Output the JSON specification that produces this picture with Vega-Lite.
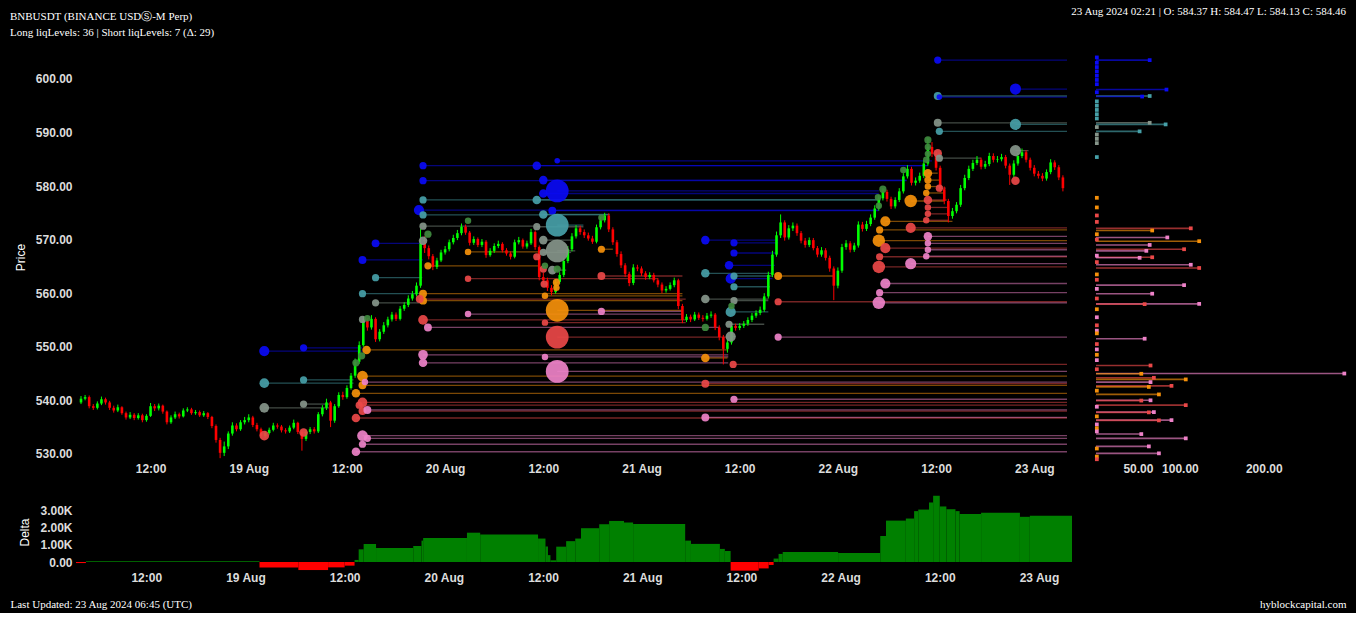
{
  "$schema": "https://vega.github.io/schema/vega-lite/v6.json",
  "background": "#000000",
  "padding": {"left": 10, "top": 6, "right": 10, "bottom": 4},
  "autosize": {"type": "pad"},
  "bounds": "flush",
  "columns": 2,
  "spacing": {"row": 30, "column": 24},
  "datasets": {
    "candles": [
      {"t":3.5,"o":539.6,"h":540.8,"l":539.3,"c":540.3},
      {"t":4.0,"o":540.3,"h":541.0,"l":540.0,"c":540.6},
      {"t":4.5,"o":540.6,"h":540.9,"l":538.5,"c":538.9},
      {"t":5.0,"o":538.9,"h":539.3,"l":538.2,"c":538.6},
      {"t":5.5,"o":538.6,"h":539.8,"l":538.3,"c":539.4},
      {"t":6.0,"o":539.4,"h":540.7,"l":539.1,"c":540.2},
      {"t":6.5,"o":540.2,"h":540.5,"l":539.2,"c":539.6},
      {"t":7.0,"o":539.6,"h":539.9,"l":538.2,"c":538.6},
      {"t":7.5,"o":538.6,"h":539.0,"l":537.7,"c":538.1},
      {"t":8.0,"o":538.1,"h":539.2,"l":537.8,"c":538.7},
      {"t":8.5,"o":538.7,"h":538.9,"l":537.3,"c":537.6},
      {"t":9.0,"o":537.6,"h":537.9,"l":536.4,"c":536.8},
      {"t":9.5,"o":536.8,"h":537.8,"l":536.5,"c":537.3},
      {"t":10.0,"o":537.3,"h":537.6,"l":536.3,"c":536.7},
      {"t":10.5,"o":536.7,"h":537.6,"l":536.4,"c":537.2},
      {"t":11.0,"o":537.2,"h":537.5,"l":535.9,"c":536.3},
      {"t":11.5,"o":536.3,"h":537.4,"l":536.0,"c":537.1},
      {"t":12.0,"o":537.1,"h":539.5,"l":536.9,"c":538.9},
      {"t":12.5,"o":538.9,"h":539.3,"l":538.0,"c":538.5},
      {"t":13.0,"o":538.5,"h":539.4,"l":538.1,"c":539.0},
      {"t":13.5,"o":539.0,"h":539.2,"l":537.5,"c":537.9},
      {"t":14.0,"o":537.9,"h":538.1,"l":535.5,"c":535.9},
      {"t":14.5,"o":535.9,"h":537.2,"l":535.6,"c":536.8},
      {"t":15.0,"o":536.8,"h":537.9,"l":536.5,"c":537.4},
      {"t":15.5,"o":537.4,"h":537.7,"l":536.6,"c":537.0},
      {"t":16.0,"o":537.0,"h":538.5,"l":536.8,"c":538.1},
      {"t":16.5,"o":538.1,"h":538.7,"l":537.8,"c":538.3},
      {"t":17.0,"o":538.3,"h":538.6,"l":537.3,"c":537.6},
      {"t":17.5,"o":537.6,"h":538.2,"l":537.3,"c":537.8},
      {"t":18.0,"o":537.8,"h":538.1,"l":536.9,"c":537.2},
      {"t":18.5,"o":537.2,"h":538.0,"l":536.9,"c":537.6},
      {"t":19.0,"o":537.6,"h":537.8,"l":536.5,"c":536.9},
      {"t":19.5,"o":536.9,"h":537.1,"l":534.8,"c":535.2},
      {"t":20.0,"o":535.2,"h":535.5,"l":532.1,"c":532.6},
      {"t":20.5,"o":532.6,"h":533.0,"l":529.2,"c":530.2},
      {"t":21.0,"o":530.2,"h":532.3,"l":529.6,"c":531.4},
      {"t":21.5,"o":531.4,"h":534.2,"l":530.9,"c":533.8},
      {"t":22.0,"o":533.8,"h":535.9,"l":533.4,"c":535.3},
      {"t":22.5,"o":535.3,"h":535.7,"l":534.2,"c":534.6},
      {"t":23.0,"o":534.6,"h":536.3,"l":534.3,"c":535.9},
      {"t":23.5,"o":535.9,"h":536.9,"l":535.5,"c":536.3},
      {"t":24.0,"o":536.3,"h":537.4,"l":535.9,"c":536.8},
      {"t":24.5,"o":536.8,"h":537.1,"l":535.0,"c":535.4},
      {"t":25.0,"o":535.4,"h":535.8,"l":534.2,"c":534.6},
      {"t":25.5,"o":534.6,"h":534.9,"l":533.0,"c":533.4},
      {"t":26.0,"o":533.4,"h":534.3,"l":533.0,"c":533.9},
      {"t":26.5,"o":533.9,"h":534.9,"l":533.6,"c":534.5},
      {"t":27.0,"o":534.5,"h":535.8,"l":534.2,"c":535.3},
      {"t":27.5,"o":535.3,"h":535.7,"l":534.7,"c":535.1},
      {"t":28.0,"o":535.1,"h":535.4,"l":534.0,"c":534.4},
      {"t":28.5,"o":534.4,"h":534.8,"l":533.8,"c":534.2},
      {"t":29.0,"o":534.2,"h":535.3,"l":533.9,"c":534.9},
      {"t":29.5,"o":534.9,"h":536.4,"l":534.6,"c":535.8},
      {"t":30.0,"o":535.8,"h":536.0,"l":533.7,"c":534.1},
      {"t":30.5,"o":534.1,"h":534.4,"l":530.6,"c":532.8},
      {"t":31.0,"o":532.8,"h":534.5,"l":532.4,"c":534.1},
      {"t":31.5,"o":534.1,"h":535.0,"l":533.7,"c":534.6},
      {"t":32.0,"o":534.6,"h":535.0,"l":533.8,"c":534.2},
      {"t":32.5,"o":534.2,"h":537.8,"l":533.9,"c":537.4},
      {"t":33.0,"o":537.4,"h":539.1,"l":537.0,"c":538.6},
      {"t":33.5,"o":538.6,"h":540.3,"l":538.2,"c":539.6},
      {"t":34.0,"o":539.6,"h":539.9,"l":535.0,"c":536.2},
      {"t":34.5,"o":536.2,"h":539.3,"l":535.8,"c":538.9},
      {"t":35.0,"o":538.9,"h":541.5,"l":538.6,"c":541.0},
      {"t":35.5,"o":541.0,"h":541.6,"l":540.1,"c":540.6},
      {"t":36.0,"o":540.6,"h":542.8,"l":540.3,"c":542.3},
      {"t":36.5,"o":542.3,"h":545.1,"l":542.0,"c":544.6},
      {"t":37.0,"o":544.6,"h":547.8,"l":544.2,"c":547.2},
      {"t":37.5,"o":547.2,"h":551.0,"l":546.8,"c":550.3},
      {"t":38.0,"o":550.3,"h":555.6,"l":550.0,"c":554.8},
      {"t":38.5,"o":554.8,"h":555.3,"l":553.0,"c":553.6},
      {"t":39.0,"o":553.6,"h":555.9,"l":553.2,"c":555.2},
      {"t":39.5,"o":555.2,"h":555.5,"l":550.9,"c":551.4},
      {"t":40.0,"o":551.4,"h":553.3,"l":551.0,"c":552.8},
      {"t":40.5,"o":552.8,"h":554.6,"l":552.4,"c":554.0},
      {"t":41.0,"o":554.0,"h":555.6,"l":553.6,"c":555.1},
      {"t":41.5,"o":555.1,"h":556.5,"l":554.7,"c":556.0},
      {"t":42.0,"o":556.0,"h":556.4,"l":554.8,"c":555.2},
      {"t":42.5,"o":555.2,"h":557.6,"l":554.9,"c":557.1},
      {"t":43.0,"o":557.1,"h":558.3,"l":556.7,"c":557.8},
      {"t":43.5,"o":557.8,"h":559.6,"l":557.4,"c":559.0},
      {"t":44.0,"o":559.0,"h":560.4,"l":558.6,"c":559.8},
      {"t":44.5,"o":559.8,"h":562.0,"l":559.4,"c":561.4},
      {"t":45.0,"o":561.4,"h":572.0,"l":561.0,"c":569.3},
      {"t":45.5,"o":569.3,"h":570.6,"l":567.5,"c":568.4},
      {"t":46.0,"o":568.4,"h":568.9,"l":566.3,"c":566.9},
      {"t":46.5,"o":566.9,"h":567.3,"l":564.3,"c":564.9},
      {"t":47.0,"o":564.9,"h":566.6,"l":564.5,"c":566.1},
      {"t":47.5,"o":566.1,"h":568.1,"l":565.8,"c":567.6},
      {"t":48.0,"o":567.6,"h":568.8,"l":567.2,"c":568.2},
      {"t":48.5,"o":568.2,"h":570.0,"l":567.8,"c":569.5},
      {"t":49.0,"o":569.5,"h":570.9,"l":569.1,"c":570.3},
      {"t":49.5,"o":570.3,"h":571.8,"l":569.9,"c":571.2},
      {"t":50.0,"o":571.2,"h":573.0,"l":570.8,"c":572.4},
      {"t":50.5,"o":572.4,"h":572.8,"l":570.9,"c":571.3},
      {"t":51.0,"o":571.3,"h":571.6,"l":568.9,"c":569.4},
      {"t":51.5,"o":569.4,"h":570.6,"l":569.0,"c":570.1},
      {"t":52.0,"o":570.1,"h":570.4,"l":568.6,"c":569.0},
      {"t":52.5,"o":569.0,"h":570.1,"l":568.6,"c":569.6},
      {"t":53.0,"o":569.6,"h":569.9,"l":566.6,"c":567.1},
      {"t":53.5,"o":567.1,"h":568.4,"l":566.8,"c":567.9},
      {"t":54.0,"o":567.9,"h":569.3,"l":567.5,"c":568.8},
      {"t":54.5,"o":568.8,"h":569.8,"l":568.4,"c":569.2},
      {"t":55.0,"o":569.2,"h":569.5,"l":567.6,"c":568.0},
      {"t":55.5,"o":568.0,"h":568.4,"l":567.0,"c":567.4},
      {"t":56.0,"o":567.4,"h":567.8,"l":566.3,"c":566.8},
      {"t":56.5,"o":566.8,"h":570.0,"l":566.5,"c":569.5},
      {"t":57.0,"o":569.5,"h":570.5,"l":569.1,"c":569.9},
      {"t":57.5,"o":569.9,"h":570.2,"l":568.3,"c":568.7},
      {"t":58.0,"o":568.7,"h":569.8,"l":568.3,"c":569.3},
      {"t":58.5,"o":569.3,"h":572.0,"l":569.0,"c":571.4},
      {"t":59.0,"o":571.4,"h":571.7,"l":568.1,"c":568.6},
      {"t":59.5,"o":568.6,"h":568.9,"l":562.4,"c":563.0},
      {"t":60.0,"o":563.0,"h":563.8,"l":561.6,"c":562.4},
      {"t":60.5,"o":562.4,"h":562.9,"l":560.4,"c":561.0},
      {"t":61.0,"o":561.0,"h":561.5,"l":559.6,"c":560.2},
      {"t":61.5,"o":560.2,"h":562.6,"l":559.9,"c":562.1},
      {"t":62.0,"o":562.1,"h":563.9,"l":561.7,"c":563.4},
      {"t":62.5,"o":563.4,"h":566.5,"l":563.0,"c":566.0},
      {"t":63.0,"o":566.0,"h":568.8,"l":565.6,"c":568.2},
      {"t":63.5,"o":568.2,"h":571.2,"l":567.8,"c":570.6},
      {"t":64.0,"o":570.6,"h":572.7,"l":570.2,"c":572.1},
      {"t":64.5,"o":572.1,"h":572.6,"l":570.9,"c":571.4},
      {"t":65.0,"o":571.4,"h":571.9,"l":570.3,"c":570.8},
      {"t":65.5,"o":570.8,"h":571.3,"l":569.8,"c":570.2},
      {"t":66.0,"o":570.2,"h":570.7,"l":569.2,"c":569.6},
      {"t":66.5,"o":569.6,"h":572.8,"l":569.3,"c":572.3},
      {"t":67.0,"o":572.3,"h":574.2,"l":571.9,"c":573.6},
      {"t":67.5,"o":573.6,"h":575.0,"l":573.2,"c":574.5},
      {"t":68.0,"o":574.5,"h":574.9,"l":571.4,"c":571.9},
      {"t":68.5,"o":571.9,"h":572.3,"l":569.0,"c":569.5},
      {"t":69.0,"o":569.5,"h":569.9,"l":566.8,"c":567.3},
      {"t":69.5,"o":567.3,"h":567.8,"l":564.7,"c":565.2},
      {"t":70.0,"o":565.2,"h":565.6,"l":563.0,"c":563.6},
      {"t":70.5,"o":563.6,"h":564.0,"l":561.3,"c":561.9},
      {"t":71.0,"o":561.9,"h":565.4,"l":561.5,"c":564.8},
      {"t":71.5,"o":564.8,"h":565.3,"l":564.1,"c":564.6},
      {"t":72.0,"o":564.6,"h":565.0,"l":563.2,"c":563.7},
      {"t":72.5,"o":563.7,"h":564.1,"l":562.5,"c":563.0},
      {"t":73.0,"o":563.0,"h":563.9,"l":562.6,"c":563.4},
      {"t":73.5,"o":563.4,"h":563.8,"l":562.0,"c":562.4},
      {"t":74.0,"o":562.4,"h":562.8,"l":561.1,"c":561.6},
      {"t":74.5,"o":561.6,"h":562.0,"l":560.0,"c":560.5},
      {"t":75.0,"o":560.5,"h":561.3,"l":560.1,"c":560.8},
      {"t":75.5,"o":560.8,"h":562.0,"l":560.5,"c":561.5},
      {"t":76.0,"o":561.5,"h":562.9,"l":561.1,"c":562.4},
      {"t":76.5,"o":562.4,"h":562.7,"l":557.0,"c":557.6},
      {"t":77.0,"o":557.6,"h":558.0,"l":554.4,"c":555.0},
      {"t":77.5,"o":555.0,"h":556.1,"l":554.6,"c":555.6},
      {"t":78.0,"o":555.6,"h":556.0,"l":554.6,"c":555.1},
      {"t":78.5,"o":555.1,"h":556.5,"l":554.8,"c":556.0},
      {"t":79.0,"o":556.0,"h":556.4,"l":555.0,"c":555.4},
      {"t":79.5,"o":555.4,"h":555.9,"l":554.7,"c":555.2},
      {"t":80.0,"o":555.2,"h":556.3,"l":554.9,"c":555.8},
      {"t":80.5,"o":555.8,"h":556.6,"l":555.4,"c":556.0},
      {"t":81.0,"o":556.0,"h":556.3,"l":553.1,"c":553.6},
      {"t":81.5,"o":553.6,"h":554.0,"l":551.2,"c":551.8},
      {"t":82.0,"o":551.8,"h":552.2,"l":546.7,"c":549.6},
      {"t":82.5,"o":549.6,"h":551.4,"l":548.9,"c":550.8},
      {"t":83.0,"o":550.8,"h":554.5,"l":550.4,"c":553.9},
      {"t":83.5,"o":553.9,"h":554.3,"l":553.0,"c":553.5},
      {"t":84.0,"o":553.5,"h":554.4,"l":553.1,"c":553.9},
      {"t":84.5,"o":553.9,"h":554.8,"l":553.5,"c":554.3},
      {"t":85.0,"o":554.3,"h":555.5,"l":553.9,"c":555.0},
      {"t":85.5,"o":555.0,"h":556.3,"l":554.6,"c":555.8},
      {"t":86.0,"o":555.8,"h":556.8,"l":555.4,"c":556.3},
      {"t":86.5,"o":556.3,"h":557.5,"l":555.9,"c":556.9},
      {"t":87.0,"o":556.9,"h":560.0,"l":556.5,"c":559.4},
      {"t":87.5,"o":559.4,"h":564.0,"l":559.0,"c":563.4},
      {"t":88.0,"o":563.4,"h":567.9,"l":563.0,"c":567.2},
      {"t":88.5,"o":567.2,"h":571.5,"l":566.8,"c":570.8},
      {"t":89.0,"o":570.8,"h":574.7,"l":570.3,"c":573.2},
      {"t":89.5,"o":573.2,"h":573.6,"l":569.8,"c":570.4},
      {"t":90.0,"o":570.4,"h":572.7,"l":570.0,"c":572.1},
      {"t":90.5,"o":572.1,"h":573.2,"l":571.6,"c":572.6},
      {"t":91.0,"o":572.6,"h":573.0,"l":570.7,"c":571.2},
      {"t":91.5,"o":571.2,"h":571.6,"l":569.3,"c":569.8},
      {"t":92.0,"o":569.8,"h":570.3,"l":568.5,"c":569.0},
      {"t":92.5,"o":569.0,"h":570.4,"l":568.6,"c":569.9},
      {"t":93.0,"o":569.9,"h":570.3,"l":568.0,"c":568.4},
      {"t":93.5,"o":568.4,"h":568.8,"l":566.7,"c":567.2},
      {"t":94.0,"o":567.2,"h":568.6,"l":566.8,"c":568.0},
      {"t":94.5,"o":568.0,"h":568.4,"l":566.1,"c":566.6},
      {"t":95.0,"o":566.6,"h":567.0,"l":564.0,"c":564.6},
      {"t":95.5,"o":564.6,"h":565.0,"l":558.7,"c":561.4},
      {"t":96.0,"o":561.4,"h":564.8,"l":560.9,"c":564.2},
      {"t":96.5,"o":564.2,"h":569.2,"l":563.8,"c":568.6},
      {"t":97.0,"o":568.6,"h":569.9,"l":568.1,"c":569.3},
      {"t":97.5,"o":569.3,"h":569.7,"l":567.6,"c":568.1},
      {"t":98.0,"o":568.1,"h":569.4,"l":567.7,"c":568.9},
      {"t":98.5,"o":568.9,"h":573.4,"l":568.5,"c":572.8},
      {"t":99.0,"o":572.8,"h":573.3,"l":571.5,"c":572.0},
      {"t":99.5,"o":572.0,"h":573.5,"l":571.6,"c":572.9},
      {"t":100.0,"o":572.9,"h":574.7,"l":572.5,"c":574.1},
      {"t":100.5,"o":574.1,"h":576.4,"l":573.7,"c":575.8},
      {"t":101.0,"o":575.8,"h":578.3,"l":575.4,"c":577.7},
      {"t":101.5,"o":577.7,"h":579.6,"l":577.3,"c":578.9},
      {"t":102.0,"o":578.9,"h":579.3,"l":577.1,"c":577.6},
      {"t":102.5,"o":577.6,"h":578.0,"l":575.7,"c":576.2},
      {"t":103.0,"o":576.2,"h":577.9,"l":575.8,"c":577.4},
      {"t":103.5,"o":577.4,"h":579.6,"l":577.0,"c":579.0},
      {"t":104.0,"o":579.0,"h":582.4,"l":578.6,"c":581.8},
      {"t":104.5,"o":581.8,"h":583.9,"l":581.4,"c":583.2},
      {"t":105.0,"o":583.2,"h":583.6,"l":580.1,"c":580.6},
      {"t":105.5,"o":580.6,"h":581.6,"l":580.1,"c":581.0},
      {"t":106.0,"o":581.0,"h":582.5,"l":580.6,"c":581.9},
      {"t":106.5,"o":581.9,"h":584.8,"l":581.5,"c":584.2},
      {"t":107.0,"o":584.2,"h":589.0,"l":583.8,"c":587.3},
      {"t":107.5,"o":587.3,"h":588.2,"l":585.4,"c":586.0},
      {"t":108.0,"o":586.0,"h":586.5,"l":582.9,"c":583.4},
      {"t":108.5,"o":583.4,"h":583.8,"l":578.8,"c":579.4},
      {"t":109.0,"o":579.4,"h":579.9,"l":576.6,"c":577.2},
      {"t":109.5,"o":577.2,"h":577.6,"l":573.2,"c":574.4},
      {"t":110.0,"o":574.4,"h":575.9,"l":573.9,"c":575.3},
      {"t":110.5,"o":575.3,"h":577.0,"l":574.9,"c":576.5},
      {"t":111.0,"o":576.5,"h":580.2,"l":576.1,"c":579.6},
      {"t":111.5,"o":579.6,"h":582.1,"l":579.2,"c":581.5},
      {"t":112.0,"o":581.5,"h":583.8,"l":581.1,"c":583.2},
      {"t":112.5,"o":583.2,"h":584.9,"l":582.8,"c":584.3},
      {"t":113.0,"o":584.3,"h":585.6,"l":583.9,"c":584.9},
      {"t":113.5,"o":584.9,"h":585.3,"l":583.1,"c":583.6},
      {"t":114.0,"o":583.6,"h":584.7,"l":583.2,"c":584.1},
      {"t":114.5,"o":584.1,"h":586.2,"l":583.7,"c":585.6},
      {"t":115.0,"o":585.6,"h":586.1,"l":584.4,"c":584.9},
      {"t":115.5,"o":584.9,"h":585.6,"l":584.4,"c":585.0},
      {"t":116.0,"o":585.0,"h":586.0,"l":584.6,"c":585.4},
      {"t":116.5,"o":585.4,"h":585.8,"l":583.3,"c":583.8},
      {"t":117.0,"o":583.8,"h":584.2,"l":580.2,"c":582.1},
      {"t":117.5,"o":582.1,"h":584.8,"l":581.7,"c":584.2},
      {"t":118.0,"o":584.2,"h":586.2,"l":583.8,"c":585.6},
      {"t":118.5,"o":585.6,"h":587.0,"l":585.2,"c":586.3},
      {"t":119.0,"o":586.3,"h":586.7,"l":584.4,"c":584.9},
      {"t":119.5,"o":584.9,"h":585.3,"l":582.9,"c":583.4},
      {"t":120.0,"o":583.4,"h":583.9,"l":581.8,"c":582.3},
      {"t":120.5,"o":582.3,"h":582.8,"l":581.4,"c":581.9},
      {"t":121.0,"o":581.9,"h":582.4,"l":580.9,"c":581.4},
      {"t":121.5,"o":581.4,"h":583.1,"l":581.0,"c":582.6},
      {"t":122.0,"o":582.6,"h":585.0,"l":582.2,"c":584.4},
      {"t":122.5,"o":584.4,"h":584.8,"l":583.0,"c":583.5},
      {"t":123.0,"o":583.5,"h":583.9,"l":581.1,"c":581.6},
      {"t":123.5,"o":581.6,"h":582.0,"l":579.0,"c":579.6}
    ],
    "levels": [
      {"t0":25.9,"t1":37.9,"p":549.2,"v":20,"g":"blue"},
      {"t0":30.7,"t1":37.9,"p":549.8,"v":10,"g":"blue"},
      {"t0":25.9,"t1":36.8,"p":543.2,"v":18,"g":"teal"},
      {"t0":30.7,"t1":36.8,"p":543.8,"v":10,"g":"teal"},
      {"t0":25.9,"t1":33.8,"p":538.6,"v":18,"g":"grey"},
      {"t0":30.7,"t1":33.8,"p":539.3,"v":10,"g":"grey"},
      {"t0":25.9,"t1":26.3,"p":533.4,"v":18,"g":"red"},
      {"t0":30.7,"t1":31.0,"p":534.0,"v":14,"g":"red"},
      {"t0":39.5,"t1":45.3,"p":569.3,"v":12,"g":"blue"},
      {"t0":37.9,"t1":45.3,"p":566.2,"v":12,"g":"blue"},
      {"t0":39.5,"t1":45.2,"p":562.9,"v":10,"g":"teal"},
      {"t0":37.9,"t1":45.1,"p":559.9,"v":10,"g":"teal"},
      {"t0":39.5,"t1":45.1,"p":558.2,"v":10,"g":"grey"},
      {"t0":37.9,"t1":38.6,"p":555.1,"v":10,"g":"grey"},
      {"t0":38.4,"t1":82.6,"p":549.4,"v":14,"g":"orange"},
      {"t0":37.9,"t1":124,"p":544.5,"v":22,"g":"orange"},
      {"t0":37.9,"t1":124,"p":542.8,"v":12,"g":"orange"},
      {"t0":37.1,"t1":124,"p":541.3,"v":14,"g":"orange"},
      {"t0":37.9,"t1":124,"p":539.6,"v":18,"g":"red"},
      {"t0":37.5,"t1":124,"p":539.1,"v":10,"g":"red"},
      {"t0":37.9,"t1":124,"p":538.0,"v":12,"g":"red"},
      {"t0":37.1,"t1":124,"p":536.7,"v":14,"g":"red"},
      {"t0":38.5,"t1":124,"p":538.2,"v":12,"g":"pink"},
      {"t0":38.2,"t1":124,"p":543.4,"v":8,"g":"pink"},
      {"t0":37.9,"t1":124,"p":533.4,"v":22,"g":"pink"},
      {"t0":38.5,"t1":124,"p":532.9,"v":10,"g":"pink"},
      {"t0":37.9,"t1":124,"p":531.8,"v":10,"g":"pink"},
      {"t0":37.1,"t1":124,"p":530.4,"v":14,"g":"pink"},
      {"t0":37.1,"t1":37.4,"p":547.0,"v":10,"g":"green"},
      {"t0":37.8,"t1":38.1,"p":548.3,"v":10,"g":"green"},
      {"t0":38.5,"t1":38.8,"p":555.3,"v":8,"g":"green"},
      {"t0":45.3,"t1":107.0,"p":583.8,"v":10,"g":"blue"},
      {"t0":45.3,"t1":104.4,"p":581.0,"v":10,"g":"blue"},
      {"t0":45.3,"t1":101.2,"p":577.4,"v":10,"g":"teal"},
      {"t0":44.8,"t1":101.0,"p":575.5,"v":20,"g":"blue"},
      {"t0":45.3,"t1":68.1,"p":574.6,"v":10,"g":"teal"},
      {"t0":45.3,"t1":58.8,"p":572.5,"v":10,"g":"grey"},
      {"t0":45.3,"t1":45.8,"p":569.8,"v":14,"g":"grey"},
      {"t0":45.9,"t1":46.3,"p":571.0,"v":10,"g":"green"},
      {"t0":45.9,"t1":59.6,"p":565.1,"v":10,"g":"orange"},
      {"t0":45.3,"t1":77.0,"p":559.9,"v":12,"g":"orange"},
      {"t0":45.3,"t1":77.0,"p":558.6,"v":12,"g":"orange"},
      {"t0":44.9,"t1":77.4,"p":558.9,"v":12,"g":"red"},
      {"t0":45.3,"t1":77.4,"p":555.0,"v":18,"g":"red"},
      {"t0":45.9,"t1":81.5,"p":553.6,"v":12,"g":"pink"},
      {"t0":45.3,"t1":82.6,"p":548.5,"v":18,"g":"pink"},
      {"t0":45.3,"t1":82.6,"p":547.0,"v":14,"g":"pink"},
      {"t0":50.8,"t1":59.5,"p":567.7,"v":8,"g":"orange"},
      {"t0":50.8,"t1":74.0,"p":562.7,"v":8,"g":"red"},
      {"t0":50.8,"t1":77.0,"p":556.1,"v":8,"g":"pink"},
      {"t0":50.8,"t1":51.1,"p":573.5,"v":8,"g":"green"},
      {"t0":61.7,"t1":107.5,"p":584.7,"v":6,"g":"blue"},
      {"t0":59.2,"t1":107.0,"p":583.8,"v":14,"g":"blue"},
      {"t0":60.0,"t1":104.4,"p":581.1,"v":14,"g":"blue"},
      {"t0":61.7,"t1":101.0,"p":579.1,"v":100,"g":"blue"},
      {"t0":60.0,"t1":101.0,"p":578.6,"v":14,"g":"blue"},
      {"t0":59.2,"t1":101.2,"p":577.4,"v":14,"g":"teal"},
      {"t0":61.1,"t1":101.0,"p":575.4,"v":12,"g":"blue"},
      {"t0":60.0,"t1":68.1,"p":574.7,"v":14,"g":"teal"},
      {"t0":61.7,"t1":64.9,"p":572.7,"v":100,"g":"teal"},
      {"t0":59.2,"t1":64.9,"p":572.4,"v":10,"g":"grey"},
      {"t0":60.0,"t1":63.6,"p":569.9,"v":14,"g":"grey"},
      {"t0":61.7,"t1":63.9,"p":567.9,"v":100,"g":"grey"},
      {"t0":60.0,"t1":63.4,"p":567.6,"v":10,"g":"grey"},
      {"t0":59.2,"t1":59.5,"p":566.8,"v":10,"g":"red"},
      {"t0":60.0,"t1":60.3,"p":564.5,"v":10,"g":"red"},
      {"t0":61.1,"t1":62.8,"p":564.3,"v":14,"g":"grey"},
      {"t0":61.7,"t1":62.2,"p":564.5,"v":10,"g":"green"},
      {"t0":60.2,"t1":60.6,"p":565.1,"v":8,"g":"green"},
      {"t0":60.1,"t1":60.5,"p":561.7,"v":10,"g":"red"},
      {"t0":61.6,"t1":62.0,"p":562.0,"v":10,"g":"orange"},
      {"t0":61.6,"t1":62.0,"p":561.0,"v":8,"g":"orange"},
      {"t0":60.2,"t1":77.0,"p":559.5,"v":8,"g":"orange"},
      {"t0":61.7,"t1":77.0,"p":556.8,"v":100,"g":"orange"},
      {"t0":60.2,"t1":77.4,"p":554.5,"v":8,"g":"red"},
      {"t0":61.7,"t1":82.5,"p":551.8,"v":100,"g":"red"},
      {"t0":60.2,"t1":82.6,"p":548.1,"v":8,"g":"pink"},
      {"t0":61.7,"t1":124,"p":545.4,"v":100,"g":"pink"},
      {"t0":67.1,"t1":68.5,"p":568.2,"v":10,"g":"orange"},
      {"t0":67.1,"t1":77.0,"p":563.2,"v":12,"g":"red"},
      {"t0":67.1,"t1":77.0,"p":556.6,"v":10,"g":"pink"},
      {"t0":67.1,"t1":67.4,"p":574.1,"v":8,"g":"green"},
      {"t0":79.8,"t1":88.7,"p":569.9,"v":14,"g":"blue"},
      {"t0":83.3,"t1":88.7,"p":569.4,"v":10,"g":"blue"},
      {"t0":83.3,"t1":88.4,"p":567.5,"v":10,"g":"blue"},
      {"t0":82.7,"t1":88.3,"p":565.2,"v":14,"g":"blue"},
      {"t0":82.9,"t1":88.0,"p":562.7,"v":20,"g":"blue"},
      {"t0":79.8,"t1":88.0,"p":563.7,"v":14,"g":"teal"},
      {"t0":83.3,"t1":88.0,"p":563.2,"v":10,"g":"teal"},
      {"t0":83.3,"t1":87.7,"p":561.2,"v":10,"g":"teal"},
      {"t0":82.9,"t1":87.5,"p":556.5,"v":20,"g":"teal"},
      {"t0":79.8,"t1":87.5,"p":558.9,"v":14,"g":"grey"},
      {"t0":83.3,"t1":87.5,"p":558.6,"v":10,"g":"grey"},
      {"t0":82.7,"t1":87.0,"p":554.2,"v":10,"g":"grey"},
      {"t0":82.9,"t1":83.5,"p":551.9,"v":20,"g":"grey"},
      {"t0":79.8,"t1":80.2,"p":553.6,"v":10,"g":"green"},
      {"t0":83.0,"t1":83.3,"p":557.6,"v":8,"g":"green"},
      {"t0":79.8,"t1":82.5,"p":547.9,"v":14,"g":"orange"},
      {"t0":79.8,"t1":124,"p":543.1,"v":12,"g":"red"},
      {"t0":79.8,"t1":124,"p":536.8,"v":12,"g":"pink"},
      {"t0":83.2,"t1":124,"p":546.7,"v":10,"g":"red"},
      {"t0":83.3,"t1":124,"p":540.2,"v":10,"g":"pink"},
      {"t0":88.7,"t1":95.5,"p":563.2,"v":12,"g":"orange"},
      {"t0":88.7,"t1":124,"p":558.4,"v":10,"g":"red"},
      {"t0":88.7,"t1":124,"p":551.8,"v":10,"g":"pink"},
      {"t0":101.8,"t1":110.0,"p":573.4,"v":20,"g":"orange"},
      {"t0":101.1,"t1":124,"p":571.8,"v":10,"g":"orange"},
      {"t0":104.9,"t1":124,"p":572.2,"v":20,"g":"red"},
      {"t0":101.0,"t1":124,"p":569.8,"v":30,"g":"orange"},
      {"t0":101.8,"t1":124,"p":568.4,"v":20,"g":"red"},
      {"t0":101.1,"t1":124,"p":566.8,"v":10,"g":"red"},
      {"t0":101.0,"t1":124,"p":564.9,"v":30,"g":"red"},
      {"t0":101.8,"t1":124,"p":561.8,"v":20,"g":"pink"},
      {"t0":101.1,"t1":124,"p":560.1,"v":10,"g":"pink"},
      {"t0":101.0,"t1":124,"p":558.2,"v":30,"g":"pink"},
      {"t0":104.9,"t1":109.0,"p":577.2,"v":30,"g":"orange"},
      {"t0":104.9,"t1":124,"p":565.5,"v":24,"g":"pink"},
      {"t0":101.5,"t1":101.8,"p":579.4,"v":10,"g":"green"},
      {"t0":100.9,"t1":101.2,"p":577.9,"v":8,"g":"green"},
      {"t0":101.0,"t1":101.3,"p":576.3,"v":8,"g":"green"},
      {"t0":104.0,"t1":104.3,"p":583.0,"v":8,"g":"green"},
      {"t0":107.0,"t1":108.2,"p":582.4,"v":14,"g":"orange"},
      {"t0":107.0,"t1":108.5,"p":581.1,"v":10,"g":"orange"},
      {"t0":107.0,"t1":108.8,"p":579.9,"v":8,"g":"orange"},
      {"t0":106.8,"t1":109.0,"p":578.7,"v":8,"g":"orange"},
      {"t0":107.0,"t1":109.3,"p":577.4,"v":14,"g":"red"},
      {"t0":107.0,"t1":109.5,"p":576.0,"v":8,"g":"red"},
      {"t0":107.0,"t1":109.5,"p":574.8,"v":8,"g":"red"},
      {"t0":106.8,"t1":109.5,"p":573.6,"v":8,"g":"red"},
      {"t0":107.0,"t1":124,"p":570.6,"v":14,"g":"pink"},
      {"t0":107.0,"t1":124,"p":569.3,"v":8,"g":"pink"},
      {"t0":107.0,"t1":124,"p":568.1,"v":8,"g":"pink"},
      {"t0":106.8,"t1":124,"p":566.9,"v":8,"g":"pink"},
      {"t0":108.2,"t1":108.6,"p":586.1,"v":14,"g":"red"},
      {"t0":108.4,"t1":109.2,"p":579.6,"v":10,"g":"red"},
      {"t0":107.0,"t1":107.3,"p":588.6,"v":10,"g":"green"},
      {"t0":107.0,"t1":107.3,"p":587.3,"v":8,"g":"green"},
      {"t0":107.0,"t1":107.3,"p":586.0,"v":8,"g":"green"},
      {"t0":106.8,"t1":107.1,"p":584.9,"v":8,"g":"green"},
      {"t0":108.2,"t1":124,"p":603.5,"v":10,"g":"blue"},
      {"t0":108.2,"t1":124,"p":596.8,"v":12,"g":"teal"},
      {"t0":108.4,"t1":124,"p":596.6,"v":6,"g":"blue"},
      {"t0":108.2,"t1":124,"p":591.8,"v":12,"g":"grey"},
      {"t0":108.4,"t1":124,"p":590.2,"v":10,"g":"teal"},
      {"t0":108.4,"t1":113.5,"p":585.2,"v":10,"g":"grey"},
      {"t0":117.7,"t1":124,"p":598.1,"v":24,"g":"blue"},
      {"t0":117.7,"t1":124,"p":591.5,"v":24,"g":"teal"},
      {"t0":117.7,"t1":119.3,"p":586.6,"v":24,"g":"grey"},
      {"t0":117.7,"t1":117.9,"p":581.0,"v":14,"g":"red"}
    ],
    "profile": [
      {"p":603.5,"v":64,"g":"blue"},
      {"p":598.0,"v":84,"g":"blue"},
      {"p":596.8,"v":64,"g":"teal"},
      {"p":596.7,"v":55,"g":"blue"},
      {"p":591.8,"v":64,"g":"grey"},
      {"p":591.5,"v":83,"g":"teal"},
      {"p":590.2,"v":52,"g":"teal"},
      {"p":572.1,"v":113,"g":"red"},
      {"p":571.7,"v":67,"g":"orange"},
      {"p":570.4,"v":85,"g":"pink"},
      {"p":569.7,"v":123,"g":"orange"},
      {"p":569.0,"v":64,"g":"pink"},
      {"p":568.2,"v":105,"g":"red"},
      {"p":567.9,"v":60,"g":"pink"},
      {"p":566.7,"v":67,"g":"red"},
      {"p":566.6,"v":52,"g":"pink"},
      {"p":565.3,"v":113,"g":"pink"},
      {"p":564.7,"v":123,"g":"red"},
      {"p":561.5,"v":105,"g":"pink"},
      {"p":559.9,"v":67,"g":"pink"},
      {"p":558.0,"v":123,"g":"pink"},
      {"p":557.95,"v":58,"g":"red"},
      {"p":551.5,"v":58,"g":"pink"},
      {"p":546.5,"v":65,"g":"red"},
      {"p":545.0,"v":296,"g":"pink"},
      {"p":544.95,"v":54,"g":"orange"},
      {"p":544.2,"v":69,"g":"red"},
      {"p":543.9,"v":107,"g":"orange"},
      {"p":543.4,"v":65,"g":"pink"},
      {"p":542.7,"v":90,"g":"red"},
      {"p":542.5,"v":63,"g":"orange"},
      {"p":541.1,"v":75,"g":"orange"},
      {"p":540.0,"v":65,"g":"pink"},
      {"p":539.95,"v":54,"g":"red"},
      {"p":539.1,"v":107,"g":"red"},
      {"p":537.8,"v":69,"g":"pink"},
      {"p":537.75,"v":63,"g":"red"},
      {"p":536.3,"v":90,"g":"pink"},
      {"p":536.25,"v":75,"g":"red"},
      {"p":533.7,"v":54,"g":"pink"},
      {"p":532.9,"v":107,"g":"pink"},
      {"p":531.4,"v":63,"g":"pink"},
      {"p":530.1,"v":75,"g":"pink"},
      {"p":604.0,"v":1,"g":"blue"},
      {"p":603.0,"v":1,"g":"blue"},
      {"p":602.2,"v":1,"g":"blue"},
      {"p":601.4,"v":1,"g":"blue"},
      {"p":600.6,"v":1,"g":"blue"},
      {"p":599.8,"v":1,"g":"blue"},
      {"p":599.0,"v":1,"g":"blue"},
      {"p":597.5,"v":1,"g":"blue"},
      {"p":595.8,"v":1,"g":"teal"},
      {"p":595.0,"v":1,"g":"teal"},
      {"p":594.2,"v":1,"g":"teal"},
      {"p":593.4,"v":1,"g":"teal"},
      {"p":592.6,"v":1,"g":"teal"},
      {"p":591.0,"v":1,"g":"grey"},
      {"p":589.6,"v":1,"g":"grey"},
      {"p":588.8,"v":1,"g":"grey"},
      {"p":588.0,"v":1,"g":"grey"},
      {"p":585.4,"v":1,"g":"teal"},
      {"p":577.8,"v":1,"g":"orange"},
      {"p":576.0,"v":1,"g":"orange"},
      {"p":574.5,"v":1,"g":"red"},
      {"p":573.3,"v":1,"g":"red"},
      {"p":571.0,"v":1,"g":"orange"},
      {"p":570.0,"v":1,"g":"red"},
      {"p":567.0,"v":1,"g":"pink"},
      {"p":565.8,"v":1,"g":"red"},
      {"p":563.5,"v":1,"g":"orange"},
      {"p":562.5,"v":1,"g":"red"},
      {"p":560.8,"v":1,"g":"pink"},
      {"p":559.0,"v":1,"g":"red"},
      {"p":557.0,"v":1,"g":"orange"},
      {"p":555.5,"v":1,"g":"pink"},
      {"p":554.0,"v":1,"g":"red"},
      {"p":553.0,"v":1,"g":"pink"},
      {"p":552.5,"v":1,"g":"orange"},
      {"p":550.5,"v":1,"g":"red"},
      {"p":549.5,"v":1,"g":"pink"},
      {"p":548.5,"v":1,"g":"orange"},
      {"p":547.5,"v":1,"g":"pink"},
      {"p":545.8,"v":1,"g":"red"},
      {"p":541.8,"v":1,"g":"orange"},
      {"p":538.8,"v":1,"g":"pink"},
      {"p":537.0,"v":1,"g":"orange"},
      {"p":535.5,"v":1,"g":"pink"},
      {"p":534.8,"v":1,"g":"orange"},
      {"p":534.2,"v":1,"g":"pink"},
      {"p":531.0,"v":1,"g":"orange"},
      {"p":529.5,"v":1,"g":"orange"},
      {"p":529.0,"v":1,"g":"red"}
    ],
    "delta": [
      {"t0":3.5,"t1":4.7,"v":-60},
      {"t0":4.7,"t1":25.7,"v":40},
      {"t0":25.7,"t1":30.4,"v":-310},
      {"t0":30.4,"t1":34.0,"v":-465},
      {"t0":34.0,"t1":36.0,"v":-310},
      {"t0":36.0,"t1":37.2,"v":-210},
      {"t0":37.2,"t1":37.7,"v":120},
      {"t0":37.7,"t1":38.3,"v":735},
      {"t0":38.3,"t1":39.8,"v":1045},
      {"t0":39.8,"t1":44.3,"v":814},
      {"t0":44.3,"t1":45.3,"v":930},
      {"t0":45.3,"t1":45.5,"v":1240},
      {"t0":45.5,"t1":50.8,"v":1395},
      {"t0":50.8,"t1":52.4,"v":1700},
      {"t0":52.4,"t1":59.4,"v":1590},
      {"t0":59.4,"t1":60.3,"v":1360},
      {"t0":60.3,"t1":60.6,"v":900},
      {"t0":60.6,"t1":60.9,"v":400},
      {"t0":60.9,"t1":61.6,"v":100},
      {"t0":61.6,"t1":62.8,"v":890},
      {"t0":62.8,"t1":63.9,"v":1210},
      {"t0":63.9,"t1":64.6,"v":1360},
      {"t0":64.6,"t1":66.8,"v":1960},
      {"t0":66.8,"t1":68.0,"v":2190},
      {"t0":68.0,"t1":69.8,"v":2380},
      {"t0":69.8,"t1":70.9,"v":2290},
      {"t0":70.9,"t1":77.2,"v":2210},
      {"t0":77.2,"t1":77.9,"v":1240},
      {"t0":77.9,"t1":81.4,"v":1050},
      {"t0":81.4,"t1":82.0,"v":760},
      {"t0":82.0,"t1":82.7,"v":640},
      {"t0":82.7,"t1":86.1,"v":-500},
      {"t0":86.1,"t1":87.3,"v":-370},
      {"t0":87.3,"t1":87.9,"v":-170},
      {"t0":87.9,"t1":88.5,"v":200},
      {"t0":88.5,"t1":89.0,"v":470},
      {"t0":89.0,"t1":95.7,"v":580},
      {"t0":95.7,"t1":100.8,"v":520},
      {"t0":100.8,"t1":101.5,"v":1510},
      {"t0":101.5,"t1":103.9,"v":2400},
      {"t0":103.9,"t1":104.9,"v":2520},
      {"t0":104.9,"t1":105.4,"v":2950},
      {"t0":105.4,"t1":106.7,"v":3040},
      {"t0":106.7,"t1":107.2,"v":3450},
      {"t0":107.2,"t1":108.0,"v":3840},
      {"t0":108.0,"t1":108.8,"v":3220},
      {"t0":108.8,"t1":109.9,"v":3060},
      {"t0":109.9,"t1":110.4,"v":2950},
      {"t0":110.4,"t1":113.0,"v":2790},
      {"t0":113.0,"t1":117.7,"v":2850},
      {"t0":117.7,"t1":118.9,"v":2620},
      {"t0":118.9,"t1":124.0,"v":2680}
    ]
  },
  "concat": [
    {
      "width": 996,
      "height": 412,
      "title": {
        "text": "BNBUSDT (BINANCE USDⓈ-M Perp)",
        "subtitle": "Long liqLevels: 36 | Short liqLevels: 7 (Δ: 29)",
        "anchor": "start",
        "frame": "group",
        "dx": -66,
        "offset": 13,
        "subtitlePadding": 5
      },
      "layer": [
        {
          "data": {"name": "levels"},
          "mark": {"type": "rule", "strokeWidth": 1.3, "opacity": 0.5},
          "encoding": {
            "x": {
              "field": "t0", "type": "quantitative", "title": null,
              "scale": {"domain": [3.5, 124], "nice": false, "zero": false},
              "axis": {
                "values": [12, 24, 36, 48, 60, 72, 84, 96, 108, 120],
                "labelExpr": "datum.value % 24 == 12 ? '12:00' : (18 + datum.value / 24) + ' Aug'",
                "labelPadding": 0
              }
            },
            "x2": {"field": "t1"},
            "y": {
              "field": "p", "type": "quantitative", "title": "Price",
              "scale": {"domain": [528.3, 605.2], "nice": false, "zero": false},
              "axis": {"values": [530, 540, 550, 560, 570, 580, 590, 600], "format": ".2f", "labelPadding": 4, "titlePadding": 8}
            },
            "color": {
              "field": "g", "type": "nominal", "legend": null,
              "scale": {
                "domain": ["blue", "teal", "grey", "green", "orange", "red", "pink"],
                "range": ["#0a0af5", "#46a0a8", "#86958a", "#3f8a3f", "#f5900a", "#ea4848", "#ee82c8"]
              }
            }
          }
        },
        {
          "data": {"name": "candles"},
          "mark": {"type": "rule", "strokeWidth": 1},
          "encoding": {
            "x": {"field": "t", "type": "quantitative", "title": null},
            "y": {"field": "l", "type": "quantitative", "title": "Price"},
            "y2": {"field": "h"},
            "color": {"condition": {"test": "datum.c >= datum.o", "value": "#00ff00"}, "value": "#ff0000"}
          }
        },
        {
          "data": {"name": "candles"},
          "mark": {"type": "bar", "width": 2.6},
          "encoding": {
            "x": {"field": "t", "type": "quantitative", "title": null},
            "y": {"field": "o", "type": "quantitative", "title": "Price"},
            "y2": {"field": "c"},
            "color": {"condition": {"test": "datum.c >= datum.o", "value": "#00ff00"}, "value": "#ff0000"}
          }
        },
        {
          "data": {"name": "levels"},
          "mark": {"type": "circle", "opacity": 0.92},
          "encoding": {
            "x": {"field": "t0", "type": "quantitative", "title": null},
            "y": {"field": "p", "type": "quantitative", "title": "Price"},
            "size": {"field": "v", "type": "quantitative", "legend": null, "scale": {"domain": [0, 100], "range": [0, 520]}},
            "color": {"field": "g", "type": "nominal", "legend": null}
          }
        }
      ]
    },
    {
      "width": 250,
      "height": 412,
      "title": {
        "text": "23 Aug 2024 02:21 | O: 584.37 H: 584.47 L: 584.13 C: 584.46",
        "anchor": "end",
        "frame": "group",
        "offset": 34
      },
      "data": {"name": "profile"},
      "layer": [
        {
          "mark": {"type": "rule", "strokeWidth": 1.6, "opacity": 0.65},
          "encoding": {
            "x": {
              "field": "v", "type": "quantitative",
              "scale": {"domain": [0, 298], "nice": false},
              "axis": {
                "values": [50, 100, 200], "format": ".2f", "labelPadding": 0,
                "title": "hyblockcapital.com", "titleX": 250, "titleY": 141,
                "titleAlign": "right", "titleBaseline": "middle",
                "titleFont": "Liberation Serif", "titleFontSize": 11, "titleColor": "#ffffff"
              }
            },
            "x2": {"datum": 0},
            "y": {"field": "p", "type": "quantitative", "axis": null, "scale": {"domain": [528.3, 605.2], "nice": false, "zero": false}},
            "color": {"field": "g", "type": "nominal", "legend": null}
          }
        },
        {
          "mark": {"type": "square", "size": 14, "filled": true, "opacity": 1},
          "encoding": {
            "x": {"field": "v", "type": "quantitative"},
            "y": {"field": "p", "type": "quantitative"},
            "color": {"field": "g", "type": "nominal", "legend": null}
          }
        }
      ]
    },
    {
      "width": 996,
      "height": 78,
      "data": {"name": "delta"},
      "mark": {"type": "bar"},
      "encoding": {
        "x": {
          "field": "t0", "type": "quantitative",
          "scale": {"domain": [3.5, 124], "nice": false, "zero": false},
          "axis": {
            "values": [12, 24, 36, 48, 60, 72, 84, 96, 108, 120],
            "labelExpr": "datum.value % 24 == 12 ? '12:00' : (18 + datum.value / 24) + ' Aug'",
            "labelPadding": 1,
            "title": "Last Updated: 23 Aug 2024 06:45 (UTC)",
            "titleX": -66, "titleY": 33, "titleAlign": "left", "titleBaseline": "middle",
            "titleFont": "Liberation Serif", "titleFontSize": 11, "titleColor": "#ffffff"
          }
        },
        "x2": {"field": "t1"},
        "y": {
          "field": "v", "type": "quantitative", "title": "Delta",
          "scale": {"domain": [-520, 4000], "nice": false, "zero": false},
          "axis": {
            "values": [0, 1000, 2000, 3000],
            "labelExpr": "datum.value == 0 ? '0.00' : format(datum.value / 1000, '.2f') + 'K'",
            "labelPadding": 4, "titlePadding": 8
          }
        },
        "y2": {"datum": 0},
        "color": {"condition": {"test": "datum.v >= 0", "value": "#008000"}, "value": "#ff0000"}
      }
    }
  ],
  "config": {
    "background": "#000000",
    "view": {"stroke": null},
    "axis": {
      "domain": false,
      "ticks": false,
      "grid": false,
      "labelColor": "#dcdcdc",
      "labelFont": "Liberation Sans",
      "labelFontSize": 12,
      "labelFontWeight": "bold",
      "titleColor": "#ffffff",
      "titleFont": "Liberation Sans",
      "titleFontSize": 12,
      "titleFontWeight": "normal"
    },
    "title": {
      "font": "Liberation Serif",
      "fontSize": 11,
      "fontWeight": "normal",
      "color": "#ffffff",
      "subtitleFont": "Liberation Serif",
      "subtitleFontSize": 11,
      "subtitleColor": "#ffffff"
    }
  }
}
